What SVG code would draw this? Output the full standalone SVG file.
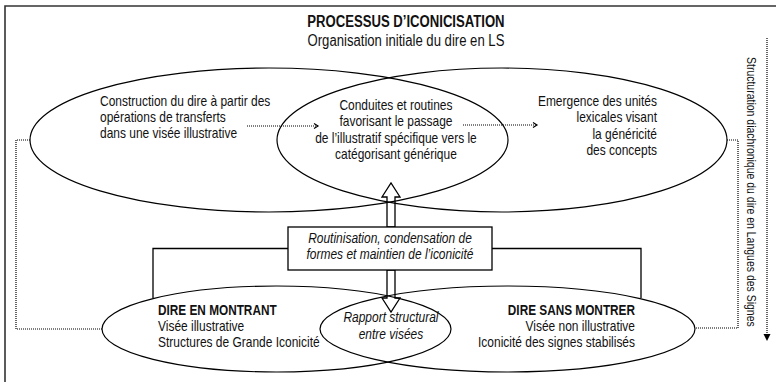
<svg xmlns="http://www.w3.org/2000/svg" width="776" height="382" viewBox="0 0 776 382">
<style>
  text { font-family: "Liberation Sans", Arial, sans-serif; font-size: 14.6px; fill: #111; }
  .b { font-weight: bold; }
  .i { font-style: italic; }
  .m { text-anchor: middle; }
  .e { text-anchor: end; }
  .ell { fill: none; stroke: #000; stroke-width: 1.2; }
  .dot { fill: none; stroke: #000; stroke-width: 1.2; stroke-dasharray: 1 1; }
  .sol { fill: none; stroke: #000; stroke-width: 1.3; }
</style>
<defs>
  <marker id="chev" markerWidth="8" markerHeight="8" refX="5" refY="3" orient="auto" markerUnits="userSpaceOnUse">
    <path d="M1,0.5 L5,3 L1,5.5" fill="none" stroke="#000" stroke-width="1.2"/>
  </marker>
  <marker id="tri" markerWidth="8" markerHeight="8" refX="6" refY="3.5" orient="auto" markerUnits="userSpaceOnUse">
    <path d="M0,0 L7,3.5 L0,7 Z" fill="#000"/>
  </marker>
</defs>

<path d="M5,382 V6 H776" fill="none" stroke="#333" stroke-width="1.6"/>

<g id="title">
  <g transform="scale(0.82 1)">
    <text class="b m" x="495.1" y="27" style="font-size:16px">PROCESSUS D’ICONICISATION</text>
    <text class="m" x="495.1" y="46" style="font-size:16px">Organisation initiale du dire en LS</text>
  </g>
</g>

<g id="connectors">
  <path class="dot" d="M247,126 H318" marker-end="url(#chev)"/>
  <path class="dot" d="M463,125 H537" marker-end="url(#chev)"/>
  <path class="dot" d="M30,140 H16 V329 H102"/>
  <path class="dot" d="M727,140 H738 V328 H695"/>
  <path class="dot" d="M767,38 V340" marker-end="url(#tri)"/>
  <path class="sol" d="M288,248.5 H153 V298"/>
  <path class="sol" d="M492,248.5 H641 V298"/>
  <polygon class="sol" points="387,227 387,197 382,197 391,183 400,197 395,197 395,227"/>
  <polygon class="sol" points="387,270 387,298 382,298 391,312 400,298 395,298 395,270"/>
</g>

<g id="node-construction">
  <ellipse class="ell" cx="269" cy="140" rx="239" ry="72"/>
  <g transform="scale(0.82 1)">
    <text x="122" y="106">Construction du dire à partir  des</text>
    <text x="122" y="122">opérations de transferts</text>
    <text x="122" y="138">dans une visée illustrative</text>
  </g>
</g>

<g id="node-emergence">
  <ellipse class="ell" cx="502" cy="140" rx="225" ry="72"/>
  <g transform="scale(0.82 1)">
    <text class="e" x="801.2" y="106">Emergence des unités</text>
    <text class="e" x="801.2" y="122">lexicales visant</text>
    <text class="e" x="801.2" y="139">la généricité</text>
    <text class="e" x="801.2" y="155">des concepts</text>
  </g>
</g>

<g id="node-conduites">
  <g transform="scale(0.82 1)">
    <text class="m" x="482.9" y="110">Conduites et routines</text>
    <text class="m" x="482.9" y="126">favorisant le passage</text>
    <text class="m" x="482.9" y="143">de l’illustratif spécifique vers le</text>
    <text class="m" x="482.9" y="159">catégorisant générique</text>
  </g>
</g>

<g id="node-routinisation">
  <rect x="288" y="227" width="204" height="43" fill="#fff" stroke="#000" stroke-width="1.3"/>
  <g transform="scale(0.82 1)">
    <text class="i m" x="475.6" y="243">Routinisation, condensation de</text>
    <text class="i m" x="475.6" y="259">formes et maintien de l’iconicité</text>
  </g>
</g>

<g id="node-dire-en-montrant">
  <ellipse class="ell" cx="276.5" cy="329" rx="174.5" ry="43"/>
  <g transform="scale(0.82 1)">
    <text class="b" x="192.7" y="315" style="font-size:14.4px">DIRE EN MONTRANT</text>
    <text x="192.7" y="331">Visée illustrative</text>
    <text x="192.7" y="347">Structures de Grande Iconicité</text>
  </g>
</g>

<g id="node-dire-sans-montrer">
  <ellipse class="ell" cx="507.5" cy="329" rx="187.5" ry="43"/>
  <g transform="scale(0.82 1)">
    <text class="b e" x="774.4" y="315" style="font-size:14.4px">DIRE SANS MONTRER</text>
    <text class="e" x="774.4" y="331">Visée non illustrative</text>
    <text class="e" x="774.4" y="347">Iconicité des signes stabilisés</text>
  </g>
</g>

<g id="node-rapport">
  <g transform="scale(0.82 1)">
    <text class="i m" x="476.8" y="322">Rapport structural</text>
    <text class="i m" x="476.8" y="339">entre visées</text>
  </g>
</g>

<g id="node-structuration">
  <text transform="translate(747,57) rotate(90) scale(0.82 1)" style="font-size:12.8px">Structuration diachronique du dire en Langues des Signes</text>
</g>
</svg>
